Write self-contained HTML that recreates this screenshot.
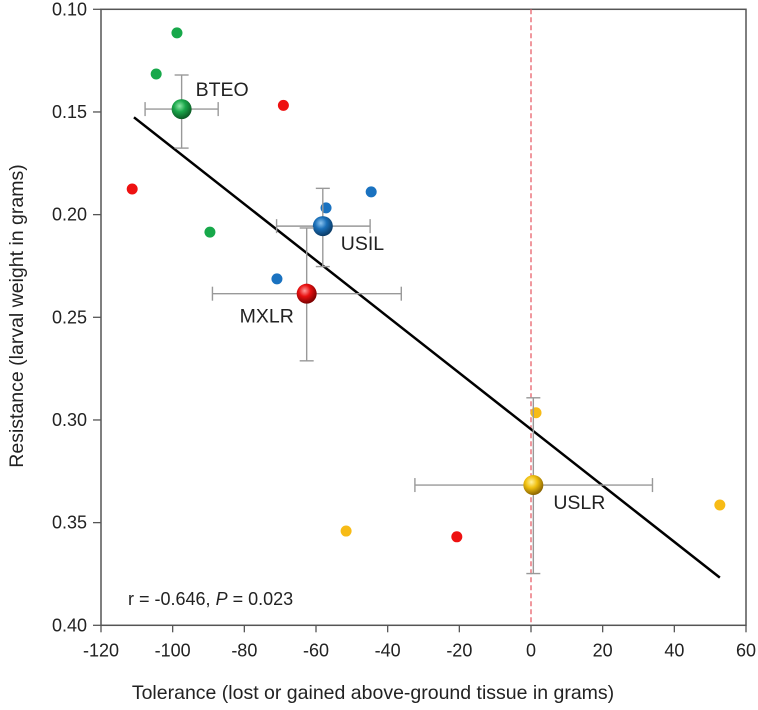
<!DOCTYPE html>
<html><head><meta charset="utf-8"><style>
html,body{margin:0;padding:0;background:#fff;}
svg{display:block;font-family:"Liberation Sans",Arial,sans-serif;}
</style></head><body>
<svg id="chart" width="758" height="710" viewBox="0 0 758 710">
<defs>
<radialGradient id="gGreen" cx="40%" cy="35%" r="65%"><stop offset="0" stop-color="#8fe8a8"/><stop offset="0.45" stop-color="#1aa64a"/><stop offset="1" stop-color="#0b5a24"/></radialGradient>
<radialGradient id="gBlue" cx="40%" cy="35%" r="65%"><stop offset="0" stop-color="#8cc4f0"/><stop offset="0.45" stop-color="#1a6fb8"/><stop offset="1" stop-color="#0b3b66"/></radialGradient>
<radialGradient id="gRed" cx="40%" cy="35%" r="65%"><stop offset="0" stop-color="#ff9a9a"/><stop offset="0.45" stop-color="#e81010"/><stop offset="1" stop-color="#7a0000"/></radialGradient>
<radialGradient id="gYellow" cx="40%" cy="35%" r="65%"><stop offset="0" stop-color="#fff3a0"/><stop offset="0.45" stop-color="#f0c010"/><stop offset="1" stop-color="#8a6400"/></radialGradient>
</defs>
</svg>
<script>
const xTicks=[-120,-100,-80,-60,-40,-20,0,20,40,60];
const yTicks=[0.10,0.15,0.20,0.25,0.30,0.35,0.40];
const smallX=[-98.8,-104.6,-89.6,-111.3,-69.1,-20.7,-57.2,-44.6,-70.9,1.4,-51.6,52.7];
const smallY=[0.1115,0.1315,0.2085,0.1875,0.1468,0.3569,0.1967,0.1889,0.2313,0.2965,0.3541,0.3414];
const smallColor=["#17a84a","#17a84a","#17a84a","#ee1111","#ee1111","#ee1111","#1a72c0","#1a72c0","#1a72c0","#f7bb16","#f7bb16","#f7bb16"];
const meanNames=["BTEO","USIL","MXLR","USLR"];
const meanX=[-97.5,-58.1,-62.6,0.65];
const meanY=[0.1486,0.2056,0.2385,0.3317];
const xErrLo=[-107.7,-71.0,-88.9,-32.4];
const xErrHi=[-87.3,-44.9,-36.2,33.9];
const yErrLo=[0.132,0.1872,0.2065,0.2892];
const yErrHi=[0.1676,0.2253,0.2712,0.3748];
const meanGrad=["url(#gGreen)","url(#gBlue)","url(#gRed)","url(#gYellow)"];
const fitX=[-110.8,52.7];
const fitY=[0.1526,0.3768];

const L=101,R=746,T=9.3,B=625.3;
const xs=v=>L+(v+120)/180*(R-L);
const ys=v=>T+(v-0.10)/0.30*(B-T);
const svg=document.getElementById('chart');
const NS="http://www.w3.org/2000/svg";
function mk(tag,a,parent){const e=document.createElementNS(NS,tag);for(const k in a)e.setAttribute(k,a[k]);(parent||svg).appendChild(e);return e;}

let e=mk('rect',{x:L,y:T,width:R-L,height:B-T,fill:'none',stroke:'#555','stroke-width':1.5});



e=mk('line',{x1:xs(0),x2:xs(0),y1:T,y2:B,stroke:'#e8606a','stroke-width':1.3,'stroke-dasharray':'5,3'});



xTicks.forEach(v=>{
  const t=mk('line',{x1:xs(v),x2:xs(v),y1:B,y2:B+7,stroke:'#555','stroke-width':1.3});
  
  
  const l=mk('text',{x:xs(v),y:B+31,'text-anchor':'middle','font-size':18,fill:'#222'});
  l.textContent=v;
  
  
});
yTicks.forEach(v=>{
  const t=mk('line',{x1:L-8,x2:L,y1:ys(v),y2:ys(v),stroke:'#555','stroke-width':1.3});
  
  
  const l=mk('text',{x:L-14,y:ys(v)+6,'text-anchor':'end','font-size':18,fill:'#222'});
  l.textContent=v.toFixed(2);
  
  
});

e=mk('text',{x:373,y:699,'text-anchor':'middle','font-size':19.5,fill:'#222'});
e.textContent='Tolerance (lost or gained above-ground tissue in grams)';


e=mk('text',{x:0,y:0,'text-anchor':'middle','font-size':19.5,fill:'#222',transform:'translate(23,316) rotate(-90)'});
e.textContent='Resistance (larval weight in grams)';



smallX.forEach((v,i)=>{
  const c=mk('circle',{cx:xs(v),cy:ys(smallY[i]),r:5.5,fill:smallColor[i]});
  
  
});

e=mk('line',{x1:xs(fitX[0]),y1:ys(fitY[0]),x2:xs(fitX[1]),y2:ys(fitY[1]),stroke:'#000','stroke-width':2.5});



const labelOff=[[14,-13],[18,24],[-67,29],[20,24]];
meanNames.forEach((n,i)=>{
  const cx=xs(meanX[i]),cy=ys(meanY[i]);
  const g=mk('g',{stroke:'#999','stroke-width':1.4});
  
  
  mk('line',{x1:xs(xErrLo[i]),x2:xs(xErrHi[i]),y1:cy,y2:cy},g);
  mk('line',{x1:xs(xErrLo[i]),x2:xs(xErrLo[i]),y1:cy-7,y2:cy+7},g);
  mk('line',{x1:xs(xErrHi[i]),x2:xs(xErrHi[i]),y1:cy-7,y2:cy+7},g);
  mk('line',{x1:cx,x2:cx,y1:ys(yErrLo[i]),y2:ys(yErrHi[i])},g);
  mk('line',{x1:cx-7,x2:cx+7,y1:ys(yErrLo[i]),y2:ys(yErrLo[i])},g);
  mk('line',{x1:cx-7,x2:cx+7,y1:ys(yErrHi[i]),y2:ys(yErrHi[i])},g);
  const c=mk('circle',{cx:cx,cy:cy,r:10,fill:meanGrad[i]});
  
  
  const t=mk('text',{x:cx+labelOff[i][0],y:cy+labelOff[i][1],'font-size':19.5,fill:'#222'});
  t.textContent=n;
  
  
});

e=mk('text',{x:128,y:605,'font-size':18,fill:'#222'});
e.innerHTML='r = -0.646, <tspan font-style="italic">P</tspan> = 0.023';


</script>
</body></html>
